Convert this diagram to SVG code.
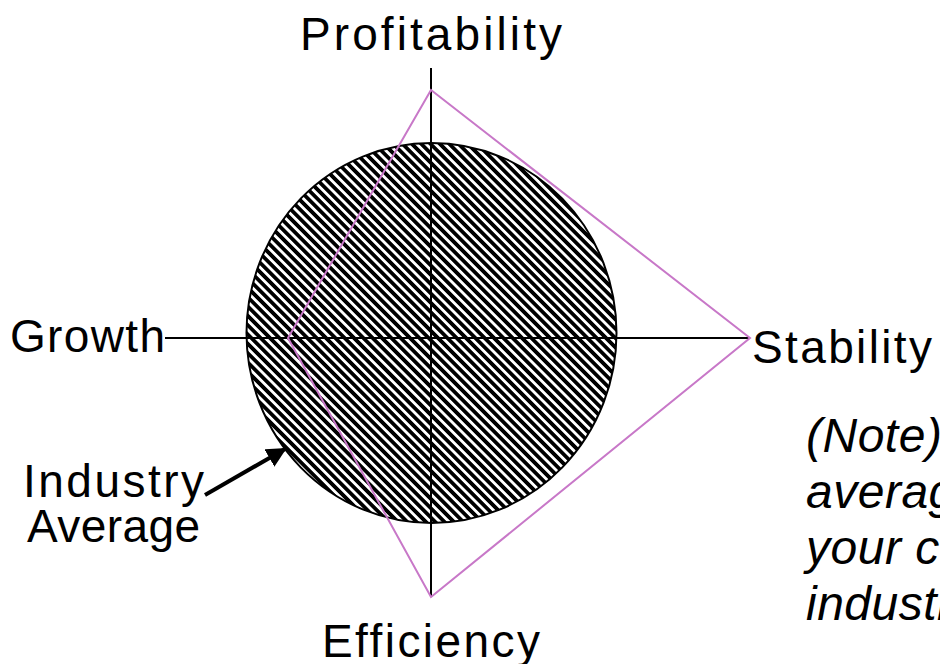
<svg xmlns="http://www.w3.org/2000/svg" width="940" height="664" viewBox="0 0 940 664">
<style>
.lbl{font-family:"Liberation Sans",Arial,sans-serif;font-size:46px;fill:#000}
.note{font-family:"Liberation Sans",Arial,sans-serif;font-size:48px;font-style:italic;fill:#000;letter-spacing:0.5px}
.axis{stroke:#000;stroke-width:2;fill:none}
.radar{stroke:#c878c8;stroke-width:2;fill:none;stroke-linejoin:miter}
</style>
<defs>
<pattern id="hatch" patternUnits="userSpaceOnUse" width="6.6" height="6.6" patternTransform="rotate(45)">
<rect x="0" y="0" width="6.6" height="6.6" fill="#fff"/>
<rect x="0" y="0" width="6.6" height="3.4" fill="#000" shape-rendering="crispEdges"/>
</pattern>
<marker id="ah" markerWidth="5" markerHeight="5" refX="4.5" refY="2.5" orient="auto" markerUnits="strokeWidth">
<path d="M0,0 L5,2.5 L0,5 Z" fill="#000"/>
</marker>
</defs>
<rect width="940" height="664" fill="#fff"/>
<g id="industry-average">
<ellipse cx="431.5" cy="333" rx="185" ry="190" fill="url(#hatch)" stroke="#000" stroke-width="2"/>
</g>
<g id="connectors">
<line class="axis" x1="431" y1="68" x2="431" y2="597"/>
<line class="axis" x1="165" y1="338" x2="750" y2="338" stroke-width="1.8"/>
<polygon class="radar" points="431,90 750,338 431,597 288,338"/>
<line x1="205" y1="495" x2="285" y2="449" stroke="#000" stroke-width="4" marker-end="url(#ah)"/>
</g>
<g id="profitability"><text class="lbl" x="300" y="50" textLength="262" lengthAdjust="spacing">Profitability</text></g>
<g id="growth"><text class="lbl" x="10" y="352" textLength="155" lengthAdjust="spacing">Growth</text></g>
<g id="stability"><text class="lbl" x="752" y="363" textLength="180" lengthAdjust="spacing">Stability</text></g>
<g id="efficiency"><text class="lbl" x="322" y="657" textLength="218" lengthAdjust="spacing">Efficiency</text></g>
<g id="industry-label">
<text class="lbl" x="23" y="497" textLength="181" lengthAdjust="spacing">Industry</text>
<text class="lbl" x="27" y="542" textLength="173" lengthAdjust="spacing">Average</text>
</g>
<g id="note">
<text class="note" x="806" y="452">(Note) Industry</text>
<text class="note" x="806" y="508">average</text>
<text class="note" x="806" y="564">your customer</text>
<text class="note" x="806" y="620">industry</text>
</g>
</svg>
